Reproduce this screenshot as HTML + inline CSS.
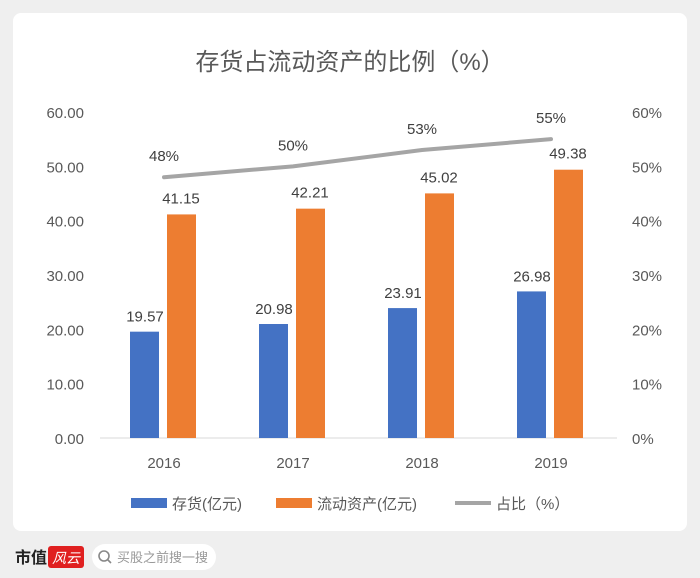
<!DOCTYPE html>
<html><head><meta charset="utf-8"><style>
body{margin:0;width:700px;height:578px;background:#efefef;font-family:"Liberation Sans","Noto Sans CJK SC",sans-serif;overflow:hidden;position:relative}
.card{position:absolute;left:13px;top:13px;width:674px;height:518px;background:#fff;border-radius:8px}
</style></head><body>
<div class="card"></div>
<svg width="700" height="578" style="position:absolute;left:0;top:0">
<text x="350" y="70" text-anchor="middle" font-size="24" fill="#595959">存货占流动资产的比例（%）</text>
<g id="g"></g>
<g font-size="15" fill="#595959">
<rect x="131" y="498" width="36" height="10" fill="#4472c4"/>
<text x="172" y="509">存货(亿元)</text>
<rect x="276" y="498" width="36" height="10" fill="#ed7d31"/>
<text x="317" y="509">流动资产(亿元)</text>
<line x1="455" y1="503" x2="491" y2="503" stroke="#a5a5a5" stroke-width="4"/>
<text x="496" y="509">占比（%）</text>
</g>
<text x="15" y="563" font-size="16" font-weight="bold" fill="#222">市值</text>
<rect x="48" y="546" width="36" height="22" rx="3" fill="#e02020"/>
<text x="66" y="563" text-anchor="middle" font-size="14" fill="#fff" font-style="italic">风云</text>
<rect x="92" y="544" width="124" height="26" rx="13" fill="#fff"/>
<circle cx="104" cy="556" r="5" fill="none" stroke="#888" stroke-width="1.6"/>
<line x1="108" y1="560" x2="111" y2="563" stroke="#888" stroke-width="1.6"/>
<text x="117" y="562" font-size="13" fill="#999">买股之前搜一搜</text>
</svg>
<script>
const years=["2016","2017","2018","2019"];
const inventory=[19.57,20.98,23.91,26.98];
const currentAssets=[41.15,42.21,45.02,49.38];
const ratio=[48,50,53,55];
const leftTicks=["0.00","10.00","20.00","30.00","40.00","50.00","60.00"];
const rightTicks=["0%","10%","20%","30%","40%","50%","60%"];
const NS="http://www.w3.org/2000/svg",g=document.getElementById('g');
const y0=438,y60=112;
const yL=v=>y0-(v/60)*(y0-y60);
const yR=p=>y0-(p/60)*(y0-y60);
const xC=i=>164+i*129;
function mk(t,a,txt){const e=document.createElementNS(NS,t);for(const k in a)e.setAttribute(k,a[k]);if(txt!=null)e.textContent=txt;g.appendChild(e);return e;}
leftTicks.forEach((t,i)=>{const e=mk('text',{x:84,y:yL(i*10)+6,'text-anchor':'end','font-size':15,fill:'#595959'},t);

});
rightTicks.forEach((t,i)=>{const e=mk('text',{x:632,y:yR(i*10)+6,'font-size':15,fill:'#595959'},t);

});
const ax=mk('line',{x1:100,y1:y0,x2:617,y2:y0,stroke:'#d9d9d9','stroke-width':1});


years.forEach((y,i)=>{
const t=mk('text',{x:xC(i),y:468,'text-anchor':'middle','font-size':15,fill:'#595959'},y);


const b1=mk('rect',{x:xC(i)-34,y:yL(inventory[i]),width:29,height:y0-yL(inventory[i]),fill:'#4472c4'});


const l1=mk('text',{x:xC(i)-19,y:yL(inventory[i])-10,'text-anchor':'middle','font-size':15,fill:'#404040'},inventory[i].toFixed(2));


const b2=mk('rect',{x:xC(i)+3,y:yL(currentAssets[i]),width:29,height:y0-yL(currentAssets[i]),fill:'#ed7d31'});


const l2=mk('text',{x:xC(i)+17,y:yL(currentAssets[i])-11,'text-anchor':'middle','font-size':15,fill:'#404040'},currentAssets[i].toFixed(2));


});
const pl=mk('polyline',{points:ratio.map((p,i)=>xC(i)+','+yR(p)).join(' '),fill:'none',stroke:'#a5a5a5','stroke-width':4,'stroke-linecap':'round'});


ratio.forEach((p,i)=>{const e=mk('text',{x:xC(i),y:yR(p)-16,'text-anchor':'middle','font-size':15,fill:'#404040'},p+'%');

});
</script>
</body></html>
